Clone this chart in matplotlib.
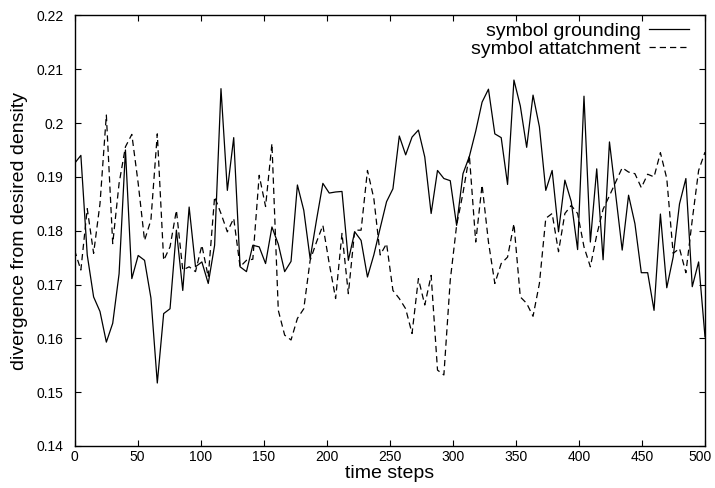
import numpy as np
import matplotlib
matplotlib.use('Agg')
import matplotlib.pyplot as plt
import matplotlib.transforms as mtransforms
from matplotlib.ticker import FuncFormatter, MultipleLocator

# 100 samples spread over 0..500 time steps
time_steps = np.linspace(0, 500, 100)

grounding = [
    0.1925, 0.1940, 0.1755, 0.1677, 0.1650, 0.1593, 0.1628, 0.1720, 0.1950, 0.1711,
    0.1754, 0.1745, 0.1675, 0.1517, 0.1646, 0.1655, 0.1801, 0.1689, 0.1844, 0.1733,
    0.1742, 0.1702, 0.1773, 0.2064, 0.1875, 0.1973, 0.1733, 0.1724, 0.1773, 0.1770,
    0.1739, 0.1807, 0.1775, 0.1724, 0.1743, 0.1885, 0.1838, 0.1748, 0.1820, 0.1888,
    0.1870, 0.1872, 0.1873, 0.1745, 0.1798, 0.1782, 0.1714, 0.1755, 0.1805, 0.1854,
    0.1878, 0.1976, 0.1941, 0.1974, 0.1987, 0.1937, 0.1832, 0.1912, 0.1897, 0.1893,
    0.1810, 0.1906, 0.1938, 0.1985, 0.2039, 0.2063, 0.1980, 0.1973, 0.1886, 0.2080,
    0.2032, 0.1955, 0.2052, 0.1993, 0.1875, 0.1912, 0.1798, 0.1894, 0.1854, 0.1765,
    0.2050, 0.1779, 0.1915, 0.1746, 0.1965, 0.1865, 0.1764, 0.1866, 0.1813, 0.1722,
    0.1722, 0.1652, 0.1831, 0.1694, 0.1751, 0.1850, 0.1897, 0.1696, 0.1742, 0.1603,
]

attachment = [
    0.1764, 0.1727, 0.1841, 0.1758, 0.1850, 0.2015, 0.1776, 0.1888, 0.1956, 0.1979,
    0.1888, 0.1782, 0.1820, 0.1980, 0.1745, 0.1770, 0.1838, 0.1727, 0.1733, 0.1724,
    0.1773, 0.1714, 0.1863, 0.1832, 0.1798, 0.1823, 0.1733, 0.1745, 0.1747, 0.1903,
    0.1845, 0.1962, 0.1652, 0.1606, 0.1597, 0.1637, 0.1655, 0.1745, 0.1779, 0.1810,
    0.1739, 0.1674, 0.1795, 0.1683, 0.1801, 0.1801, 0.1912, 0.1860, 0.1755, 0.1776,
    0.1689, 0.1674, 0.1655, 0.1609, 0.1711, 0.1662, 0.1717, 0.1541, 0.1532, 0.1708,
    0.1810, 0.1870, 0.1940, 0.1779, 0.1885, 0.1779, 0.1702, 0.1739, 0.1751, 0.1813,
    0.1677, 0.1665, 0.1641, 0.1702, 0.1823, 0.1832, 0.1761, 0.1832, 0.1847, 0.1832,
    0.1770, 0.1733, 0.1792, 0.1840, 0.1865, 0.1891, 0.1917, 0.1909, 0.1906, 0.1880,
    0.1905, 0.1900, 0.1945, 0.1897, 0.1758, 0.1767, 0.1722, 0.1820, 0.1912, 0.1946,
]

x_ticks = [0, 50, 100, 150, 200, 250, 300, 350, 400, 450, 500]

plt.rcParams['font.family'] = ['Liberation Sans', 'DejaVu Sans']

fig = plt.figure(figsize=(7.15, 4.88), dpi=100)
ax = fig.add_axes([0.1042, 0.0861, 0.8818, 0.8822])

ax.plot(time_steps, grounding, color='black', lw=0.9, label='symbol grounding')
ax.plot(time_steps, attachment, color='black', lw=0.9, linestyle=(0, (5.0, 3.2)),
        label='symbol attatchment')

ax.set_xlim(0, 500)
ax.set_ylim(0.14, 0.22)
ax.set_xticks(x_ticks)
ax.yaxis.set_major_locator(MultipleLocator(0.01))
ax.yaxis.set_major_formatter(FuncFormatter(lambda v, p: '%g' % round(v, 3)))
ax.tick_params(direction='in', top=True, right=True, length=4, width=0.8, labelsize=10)
ax.tick_params(axis='x', pad=3)
ax.tick_params(axis='y', pad=8)
for s in ax.spines.values():
    s.set_linewidth(1.0)

ax.set_xlabel('time steps', fontsize=14)
ax.set_ylabel('divergence from desired density', fontsize=14)
ax.xaxis.set_label_coords(0.5, -0.044)
ax.yaxis.set_label_coords(-0.074, 0.5)

ax.legend(loc='upper right', bbox_to_anchor=(0.975, 0.985), frameon=False, markerfirst=False,
          fontsize=14, handlelength=2.06, handletextpad=0.45, borderpad=0, borderaxespad=0,
          labelspacing=0.05)

# keep the "500" label inside the canvas
fig.canvas.draw()
for lbl in ax.get_xticklabels():
    if lbl.get_text() == '500':
        lbl.set_transform(lbl.get_transform()
                          + mtransforms.ScaledTranslation(-5 / 100, 0, fig.dpi_scale_trans))

fig.savefig('out.png', dpi=100)
